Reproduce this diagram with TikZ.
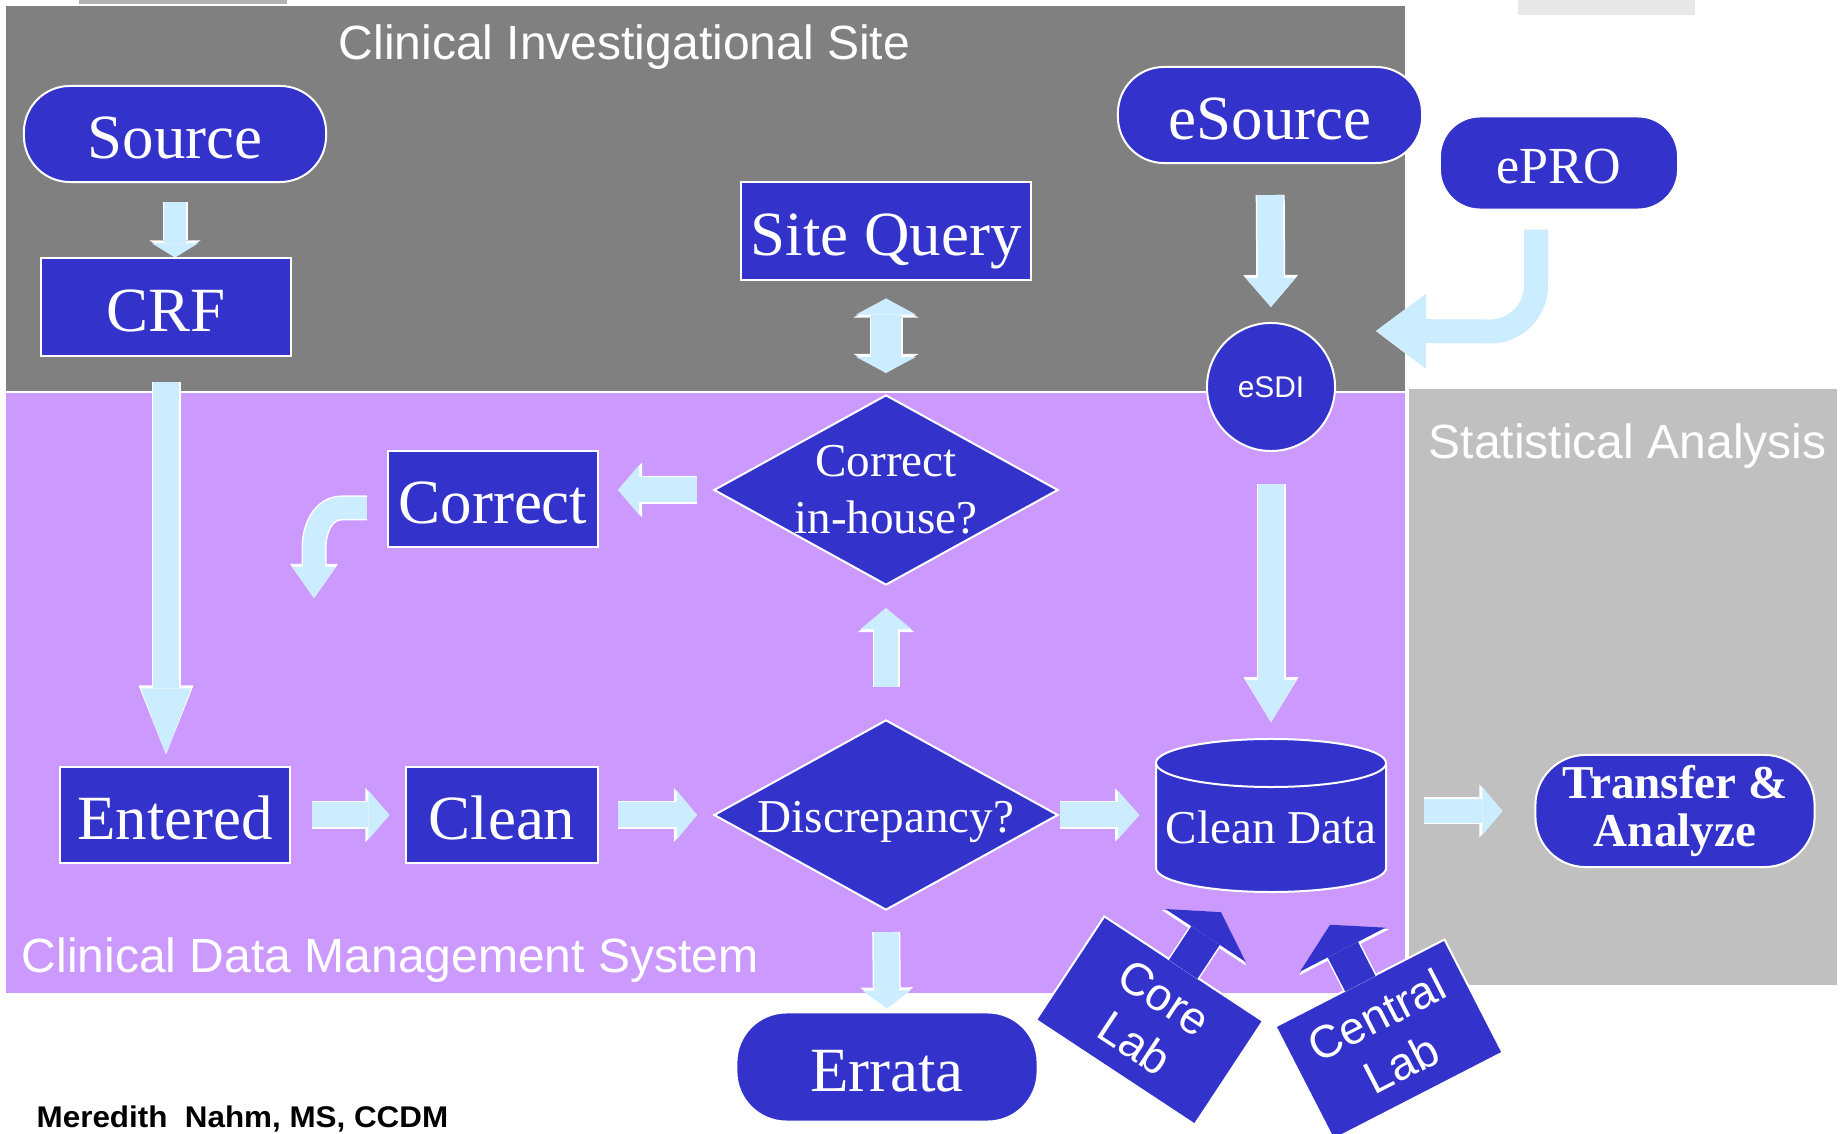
\documentclass[tikz,border=0pt]{standalone}
\usepackage{fontspec}
\setmainfont{Liberation Serif}
\newfontfamily\arialfont{Liberation Sans}
\usetikzlibrary{arrows.meta,shapes.geometric,calc}

\definecolor{sitegray}{HTML}{808080}
\definecolor{cdmspurple}{HTML}{CC99FF}
\definecolor{statgray}{HTML}{C0C0C0}
\definecolor{nodeblue}{HTML}{3333CC}
\definecolor{arrowblue}{HTML}{CCECFF}

\newcommand\bigtxt{\fontsize{17.9}{21}\selectfont}
\newcommand\midtxt{\fontsize{13.4}{16.2}\selectfont}
\newcommand\boldtxt{\fontsize{13.4}{13.5}\selectfont\bfseries}
\newcommand\protxt{\fontsize{14.8}{17}\selectfont}
\newcommand\titletxt{\arialfont\fontsize{13.66}{16}\selectfont}
\newcommand\dotxt{\arialfont\fontsize{8.5}{10}\selectfont}
\newcommand\labtxt{\arialfont\fontsize{13}{15.4}\selectfont}
\newcommand\credittxt{\arialfont\bfseries\fontsize{8.5}{10}\selectfont}

\tikzset{
  box/.style={rectangle, fill=nodeblue, draw=white, line width=0.02cm, text=white, inner sep=0pt, font=\bigtxt},
  pill/.style={box, rounded corners=0.46cm},
  tb/.style={text height=0.69cm, text depth=0.21cm},
  decide/.style={diamond, fill=nodeblue, draw=white, line width=0.02cm, text=white, inner sep=-0.08cm,
    shape aspect=1.81, minimum width=3.44cm, minimum height=1.9cm, font=\midtxt, align=center},
  lab/.style={box, font=\labtxt, align=center, minimum width=1.9cm, minimum height=1.25cm},
  title/.style={text=white, font=\titletxt, inner sep=0pt, anchor=base west},
  pipe/.style n args={3}{draw=arrowblue, line width=#1*0.01cm,
    -{Triangle[width=#2*0.01cm, length=#3*0.01cm, line width=0pt]},
    preaction={draw=white, line width=(#1+3)*0.01cm,
      -{Triangle[width=(#2+5)*0.01cm, length=(#3+3)*0.01cm, line width=0pt]}}},
  pipe2/.style n args={3}{draw=arrowblue, line width=#1*0.01cm,
    {Triangle[width=#2*0.01cm, length=#3*0.01cm, line width=0pt]}-{Triangle[width=#2*0.01cm, length=#3*0.01cm, line width=0pt]},
    preaction={draw=white, line width=(#1+3)*0.01cm,
      {Triangle[width=(#2+5)*0.01cm, length=(#3+3)*0.01cm, line width=0pt]}-{Triangle[width=(#2+5)*0.01cm, length=(#3+3)*0.01cm, line width=0pt]}}},
  labpipe/.style={draw=nodeblue, line width=0.34cm, shorten <=-0.02cm,
    -{Triangle[width=0.96cm, length=0.28cm, line width=0pt]},
    preaction={draw=white, line width=0.37cm, -{Triangle[width=1.01cm, length=0.31cm, line width=0pt]}}},
}

\begin{document}
\begin{tikzpicture}[x=0.01cm, y=-0.01cm]
\useasboundingbox (0,0) rectangle (1845,1134);
\fill[white] (0,0) rectangle (1845,1134);
\fill[black!30] (79,0) rectangle (287,5); % scrap at top
\fill[black!9] (1518,0) rectangle (1695,15); % scrap at top
\path[fill=sitegray, draw=white, line width=0.02cm] (5,5) rectangle (1406,392); % site
\path[fill=cdmspurple, draw=white, line width=0.02cm] (5,392) rectangle (1406,994); % cdms
\path[fill=statgray, draw=white, line width=0.02cm] (1408,388) rectangle (1838,986); % stats

\node[title] (sitetitle) at (338,60) {Clinical Investigational Site};
\node[title] (stattitle) at (1428,459) {Statistical Analysis};
\node[title] (cdmstitle) at (21,972) {Clinical Data Management System};

% site side
\node[pill, tb, minimum width=3.02cm, minimum height=0.96cm] (source) at (175,134) {Source};
\node[box, tb, minimum width=2.5cm, minimum height=0.97cm] (crf) at (166,307) {CRF};
\node[box, tb, minimum width=2.89cm, minimum height=0.97cm] (sitequery) at (886,231) {Site Query};
\node[pill, tb, minimum width=3.04cm, minimum height=0.96cm] (esource) at (1270,115) {eSource};
\node[pill, font=\protxt, text height=0.56cm, text depth=0.16cm, rounded corners=0.4cm, minimum width=2.38cm, minimum height=0.93cm] (epro) at (1559,163) {ePRO};
\node[box, circle, font=\dotxt, minimum size=1.28cm] (esdi) at (1271,387) {eSDI};

% data management
\node[box, tb, minimum width=2.1cm, minimum height=0.96cm] (correct) at (493,499) {Correct};
\node[decide] (cih) at (886,490) {Correct\\in-house?};
\node[box, tb, minimum width=2.3cm, minimum height=0.95cm] (entered) at (175,815) {Entered};
\node[box, tb, minimum width=1.91cm, minimum height=0.95cm] (clean) at (502,815) {Clean};
\node[decide, text height=0.5cm, text depth=0.16cm] (disc) at (886,815) {Discrepancy?};
\path[fill=nodeblue, draw=white, line width=0.02cm] (1156,763) -- (1156,868)
  arc[start angle=180, end angle=360, x radius=1.15cm, y radius=0.24cm] -- (1386,763)
  arc[start angle=0, end angle=180, x radius=1.15cm, y radius=0.24cm] -- cycle; % drum
\draw[white, line width=0.02cm] (1156,763) arc[start angle=180, end angle=360, x radius=1.15cm, y radius=0.24cm]; % lid
\node[text=white, font=\midtxt, inner sep=0pt, minimum width=2.3cm, minimum height=1.53cm,
  text height=0.55cm, text depth=0cm] (cleandata) at (1271,815.5) {Clean Data};
\node[pill, font=\boldtxt, align=center, rounded corners=0.5cm, minimum width=2.79cm, minimum height=1.12cm] (transfer) at (1675,811) {Transfer \&\\Analyze};
\node[pill, tb, rounded corners=0.5cm, minimum width=3.01cm, minimum height=1.09cm] (errata) at (887,1067) {Errata};
\node[lab, rotate=-33.4, minimum height=1.24cm] (corelab) at (1149.5,1020.5) {Core\\Lab};
\node[lab, rotate=27.2, minimum height=1.27cm] (centrallab) at (1389,1039.5) {Central\\Lab};

\node[anchor=base west, inner sep=0pt, font=\credittxt] (credit) at (36,1127) {\scalebox{1.05}[1]{Meredith\ \ Nahm, MS, CCDM}};

% flow arrows
\coordinate (fixtip) at (314,598);
\coordinate (eprotip) at ($(esdi.east)+(40,-56)$);
\draw[pipe={22}{46}{14}, shorten <=0.19cm] (source.south) -- (source.south |- crf.north);
\draw[pipe={26}{50}{66}, shorten <=0.25cm, shorten >=0.12cm] (crf.south) -- (crf.south |- entered.north);
\draw[pipe={25}{49}{21}, shorten <=0.21cm, shorten >=0.16cm] (entered.east) -- (clean.west);
\draw[pipe={25}{49}{20}, shorten <=0.19cm, shorten >=0.16cm] (clean.east) -- (disc.west);
\draw[pipe={25}{48}{21}, shorten <=0.01cm, shorten >=0.16cm] (disc.east) -- (disc.east -| cleandata.west);
\draw[pipe={24}{51}{21}, shorten <=0.32cm, shorten >=0.22cm] (disc.north) -- (cih.south);
\draw[pipe={25}{50}{21}, shorten <=0.16cm, shorten >=0.19cm] (cih.west) -- (cih.west -| correct.east);
\draw[pipe={22}{43}{31}] ($(correct.west)+(-20,9)$) -- ++(-25,0) to[out=180, in=90] (fixtip |- 0,548) -- (fixtip);
\draw[pipe2={30}{60}{16}, shorten <=0.18cm, shorten >=0.21cm] (sitequery.south) -- (cih.north);
\draw[pipe={26}{50}{29}, shorten <=0.31cm, shorten >=0.15cm] (esource.south) -- (esdi.north);
\draw[pipe={24}{75}{50}] ($(epro.south)+(-23,19)$) -- ++(0,56) to[out=270, in=0] ++(-46,46) -- (eprotip);
\draw[pipe={26}{50}{42}, shorten <=0.32cm, shorten >=0.16cm] (esdi.south) -- (esdi.south |- cleandata.north);
\draw[pipe={24}{48}{20}, shorten <=0.37cm, shorten >=0.32cm] (cleandata.east |- transfer.west) -- (transfer.west);
\draw[pipe={25}{48}{18}, shorten <=0.21cm, shorten >=0.03cm] (disc.south) -- (errata.north);
\draw[labpipe] (corelab.north) -- ($(corelab.center)!2.06!(corelab.north)$);
\draw[labpipe] (centrallab.north) -- ($(centrallab.center)!2.0!(centrallab.north)$);
\end{tikzpicture}
\end{document}
